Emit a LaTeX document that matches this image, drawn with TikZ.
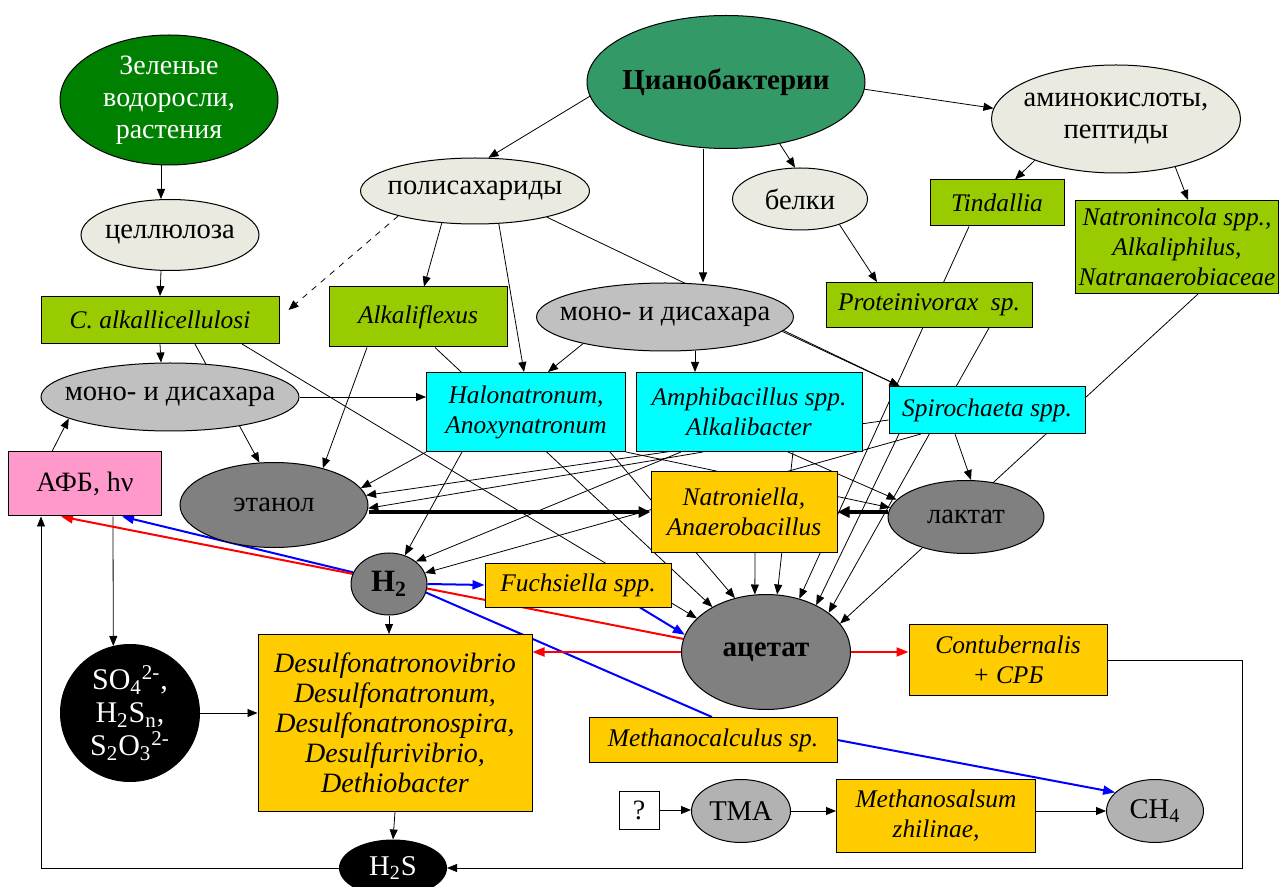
\documentclass[tikz,border=0pt]{standalone}
\usepackage{fontspec}
\setmainfont{Liberation Serif}
\usetikzlibrary{shapes.geometric,arrows.meta,backgrounds,calc}

\definecolor{leafgreen}{RGB}{0,128,0}
\definecolor{cyanogreen}{RGB}{51,153,102}
\definecolor{paleell}{RGB}{234,234,224}
\definecolor{midgray}{RGB}{192,192,192}
\definecolor{dkgray}{RGB}{128,128,128}
\definecolor{ltgray}{RGB}{178,178,178}
\definecolor{limebox}{RGB}{153,204,0}
\definecolor{cyanbox}{RGB}{0,255,255}
\definecolor{ambbox}{RGB}{255,204,0}
\definecolor{pinkbox}{RGB}{255,153,204}

\tikzset{every picture/.style={line width=0.5pt}}
\tikzset{
  ell/.style={ellipse, draw, inner xsep=-14pt, inner ysep=-4pt, align=center, font=\fontsize{14.3}{16}\selectfont},
  box/.style={rectangle, draw, inner sep=0pt, align=center, font=\fontsize{12.7}{15}\selectfont\itshape},
  arr/.style={-{Triangle[length=5pt,width=4pt]}},
  thk/.style={-{Triangle[length=6pt,width=5.5pt]}, line width=1.8pt},
  redarr/.style={-{Triangle[length=6pt,width=4.5pt]}, red, line width=1pt},
  bluarr/.style={-{Triangle[length=6pt,width=4.5pt]}, blue, line width=1pt}
}

\begin{document}
\begin{tikzpicture}[x=0.5pt,y=0.5pt,yscale=-1]
\useasboundingbox (0,0) rectangle (1280,887);

% primary producers
\node[ell, fill=leafgreen, text=white, font=\fontsize{14}{16}\selectfont, minimum width=109pt, minimum height=65pt] (green) at (169,100) {Зеленые\\водоросли,\\растения};
\node[ell, fill=cyanogreen, font=\fontsize{14.5}{16}\selectfont\bfseries, minimum width=139pt, minimum height=66.5pt] (cyano) at (726,82) {Цианобактерии};

% polymers and sugars
\node[ell, fill=paleell, minimum width=89pt, minimum height=35.5pt] (cell) at (170,235) {целлюлоза};
\node[ell, fill=paleell, minimum width=114.5pt, minimum height=33pt] (polys) at (475,191) {полисахариды};
\node[ell, fill=paleell, minimum width=67.5pt, minimum height=31pt] (prot) at (800,199) {белки};
\node[ell, fill=paleell, minimum width=124.5pt, minimum height=54pt] (amino) at (1116,119) {аминокислоты,\\пептиды};
\node[ell, fill=midgray, minimum width=129pt, minimum height=34pt] (monoL) at (170,397) {моно- и дисахара};
\node[ell, fill=midgray, minimum width=128.5pt, minimum height=34pt] (monoC) at (665,317) {моно- и дисахара};

% hydrolytic bacteria
\node[box, fill=limebox, minimum width=119pt, minimum height=23.5pt] (calk) at (160,320) {C. alkallicellulosi};
\node[box, fill=limebox, minimum width=89pt, minimum height=30pt] (alkf) at (418,317) {Alkaliflexus};
\node[box, fill=limebox, minimum width=67pt, minimum height=23pt] (tind) at (997,203) {Tindallia};
\node[box, fill=limebox, minimum width=101.5pt, minimum height=46.5pt] (natin) at (1177,247) {Natronincola spp.,\\Alkaliphilus,\\Natranaerobiaceae};
\node[box, fill=limebox, minimum width=103pt, minimum height=22.5pt] (protv) at (929,305) {Proteinivorax\ \ sp.};

% fermenters
\node[box, fill=cyanbox, minimum width=99.5pt, minimum height=39.5pt] (halo) at (526,412) {Halonatronum,\\Anoxynatronum};
\node[box, fill=cyanbox, minimum width=113pt, minimum height=39.5pt] (amph) at (749,412) {Amphibacillus spp.\\Alkalibacter};
\node[box, fill=cyanbox, minimum width=98pt, minimum height=23.5pt] (spiro) at (987,410) {Spirochaeta spp.};
\node[box, fill=ambbox, minimum width=93pt, minimum height=40pt] (natr) at (744,512) {Natroniella,\\Anaerobacillus};

% fermentation products
\node[ell, fill=dkgray, minimum width=94pt, minimum height=42.5pt] (etoh) at (274,505) {этанол};
\node[ell, fill=dkgray, minimum width=78pt, minimum height=36.5pt] (lact) at (966,517) {лактат};
\node[ell, fill=dkgray, minimum width=38pt, minimum height=31pt, font=\fontsize{15.5}{17}\selectfont\bfseries] (htwo) at (389,584) {H\textsubscript{2}};
\node[ell, fill=dkgray, minimum width=84.5pt, minimum height=57.5pt, font=\fontsize{14.5}{16}\selectfont\bfseries] (acet) at (766,652) {ацетат};

% terminal groups
\node[box, fill=pinkbox, font=\fontsize{14}{15}\selectfont, minimum width=76.5pt, minimum height=32pt] (afb) at (85,484) {АФБ, hν};
\node[ell, fill=black, text=white, font=\fontsize{15}{16.5}\selectfont, minimum width=69.5pt, minimum height=68.5pt] (sulf) at (130,713) {SO\textsubscript{4}\textsuperscript{2-},\\H\textsubscript{2}S\textsubscript{n},\\S\textsubscript{2}O\textsubscript{3}\textsuperscript{2-}};
\node[box, fill=ambbox, font=\fontsize{14}{15}\selectfont\itshape, minimum width=137pt, minimum height=88.5pt] (desulf) at (395,723) {Desulfonatronovibrio\\Desulfonatronum,\\Desulfonatronospira,\\Desulfurivibrio,\\Dethiobacter};
\node[ell, fill=black, text=white, minimum width=53.5pt, minimum height=28pt] (htws) at (393,868) {H\textsubscript{2}S};
\node[box, fill=ambbox, minimum width=93pt, minimum height=22pt] (fuch) at (578,585) {Fuchsiella spp.};
\node[box, fill=ambbox, minimum width=99pt, minimum height=35.5pt] (cont) at (1008,660) {Contubernalis\\+ СРБ};
\node[box, fill=ambbox, minimum width=124pt, minimum height=22.5pt] (mcalc) at (713,740) {Methanocalculus sp.};
\node[box, fill=white, font=\fontsize{14}{15}\selectfont, minimum width=20pt, minimum height=19pt] (quest) at (639,810) {?};
\node[ell, fill=ltgray, minimum width=49.5pt, minimum height=31.5pt] (tma) at (741,811) {ТМА};
\node[box, fill=ambbox, minimum width=99.5pt, minimum height=36.5pt] (msals) at (936,816) {Methanosalsum\\zhilinae,};
\node[ell, fill=ltgray, minimum width=48.5pt, minimum height=31.5pt] (chf) at (1155,811) {CH\textsubscript{4}};

\begin{pgfonlayer}{background}
\fill[white] (0,0) rectangle (1280,887);
% left column
\draw[arr] ($(green.south)+(-8,0)$) -- ($(cell.north)+(-9,0)$);
\draw[arr] ($(cell.south)+(-9,0)$) -- (calk.north);
\draw[arr] (calk.south) -- ($(monoL.north)+(-9,0)$);
\draw[arr, dashed] (polys.198) -- ($(calk.north east)+(9,14)$);
\draw[arr] ($(afb.north)+(-33,0)$) -- (monoL.192);
\draw[arr] ($(afb.south)+(28,0)$) -- (sulf.104);
\draw[arr] (sulf.east) -- (sulf.east -| desulf.west);
\draw[arr] (htwo.south) -- (htwo.south |- desulf.north);
\draw[arr] (desulf.south) -- (htws.north);
\draw[arr] (htws.west) -| ($(afb.south)+(-44,0)$);
% cyanobacterial products
\draw[arr] (cyano.186) -- (polys.68);
\draw[arr] ($(cyano.south)+(-23,0)$) -- ($(monoC.north)+(38,0)$);
\draw[arr] (cyano.311) -- (prot.99);
\draw[arr] (cyano.-3) -- (amino.175);
\draw[arr] (amino.207) -- ($(tind.north)+(18,0)$);
\draw[arr] (amino.321) -- ($(natin.north)+(11,0)$);
\draw[arr] (prot.327) -- ($(protv.north)+(-52,0)$);
\draw[arr] (polys.224) -- ($(alkf.north)+(6,0)$);
\draw[arr] (polys.306) -- ($(halo.north)+(-2,0)$);
\draw[arr] (polys.340) -- ($(spiro.north west)+(11,0)$);
\draw[arr] (monoC.353) -- ($(spiro.north west)+(11,0)$);
\draw[arr] (monoC.198) -- ($(halo.north)+(22,0)$);
\draw[arr] ($(monoC.south)+(30,0)$) -- ($(amph.north)+(-54,0)$);
\draw[arr] (monoL.east) -- (monoL.east -| halo.west);
% hydrolytics to products
\draw[arr] ($(calk.south)+(35,0)$) -- (etoh.109);
\draw[arr] ($(calk.south)+(82,0)$) -- (acet.154);
\draw[arr] ($(alkf.south)+(-51,0)$) -- (etoh.37);
\draw[arr] ($(alkf.south)+(17,0)$) -- (acet.140);
\draw[arr] ($(tind.south)+(-28,0)$) -- (acet.58);
\draw[arr] ($(protv.south)+(60,0)$) -- (acet.32);
\draw[arr] ($(natin.south)+(21,0)$) -- (acet.21);
% fermenters to products
\draw[arr] (halo.south west) -- (etoh.11);
\draw[arr] ($(halo.south)+(-64,0)$) -- (htwo.61);
\draw[arr] ($(halo.south)+(84,0)$) -- (acet.120);
\draw[arr] (halo.south east) -- (lact.173);
\draw[arr] ($(amph.south)+(-46,0)$) -- (etoh.-2);
\draw[arr] ($(amph.south)+(-68,0)$) -- (htwo.40);
\draw[arr] ($(amph.south)+(44,0)$) -- (acet.79);
\draw[arr] ($(amph.south)+(39,0)$) -- (lact.166);
\draw[arr] ($(spiro.west)+(0,10)$) -- (etoh.6);
\draw[arr] ($(spiro.south)+(-66,0)$) -- (htwo.17);
\draw[arr] ($(spiro.south)+(-88,0)$) -- (acet.43);
\draw[arr] ($(spiro.south)+(-32,0)$) -- ($(lact.north)+(5,0)$);
\draw[arr] ($(natr.south)+(11,0)$) -- (acet.101);
\draw[thk] ($(etoh.east)+(0,7)$) -- (natr.west);
\draw[thk] ($(lact.west)+(0,-5)$) -- (natr.east);
% hydrogen and acetate consumers
\draw[bluarr] (htwo.east) -- (fuch.west);
\draw[bluarr] (htwo.162) -- ($(afb.south)+(37,0)$);
\draw[blue, line width=1pt] (htwo.-13) -- ($(mcalc.north)+(-1,0)$);
\draw[bluarr] (mcalc.east) -- (chf.155);
\draw[bluarr] ($(fuch.south)+(62,0)$) -- (acet.168);
\draw[redarr] (acet.171) -- ($(afb.south)+(-24,0)$);
\draw[redarr] (acet.west) -- (acet.west -| desulf.east);
\draw[redarr] (acet.east) -- (acet.east -| cont.west);
% methylotrophic branch
\draw[arr] (quest.east) -- (quest.east -| tma.west);
\draw[arr] (tma.east) -- (tma.east -| msals.west);
\draw[arr] (msals.east |- chf.west) -- (chf.west);
\draw[arr] (cont.east) -- ++(135,0) |- (htws.east);
\end{pgfonlayer}

\end{tikzpicture}
\end{document}
